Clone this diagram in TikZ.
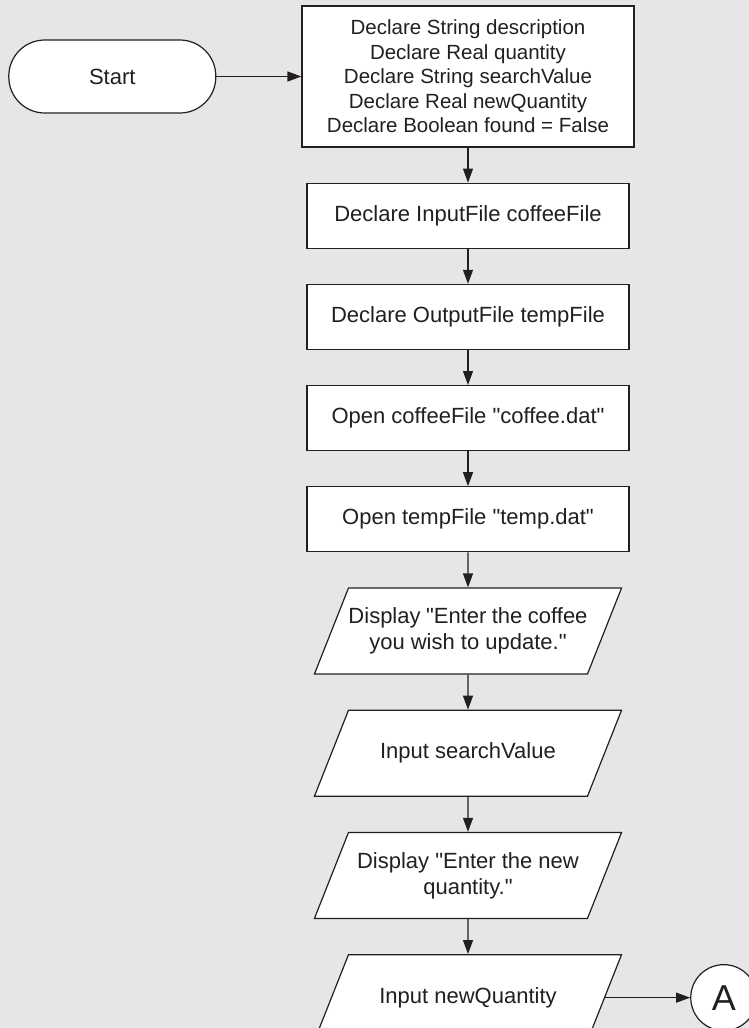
\documentclass[tikz,border=0pt]{standalone}
\usepackage{fontspec}
\setmainfont{Liberation Sans}[Ligatures=TeXOff]
\usetikzlibrary{arrows.meta,positioning,shapes.geometric}
\definecolor{ink}{HTML}{231F20}
\definecolor{paper}{HTML}{E6E6E6}
\newcommand{\iotext}[1]{\parbox[c][46pt][c]{239pt}{\centering #1}}

\begin{document}
\begin{tikzpicture}[x=1pt,y=1pt,>={Triangle[length=14pt,width=10pt]},node distance=35pt,
  every node/.style={text=ink,font=\fontsize{22}{26}\selectfont},
  procbox/.style={draw=ink,line width=1.2pt,fill=white,minimum width=322pt,minimum height=65pt,inner sep=0pt,align=center},
  iobox/.style={draw=ink,line width=1.2pt,fill=white,trapezium,trapezium left angle=68.4,trapezium right angle=111.6,
    inner xsep=0pt,inner ysep=20pt},
  termbox/.style={draw=ink,line width=1.2pt,fill=white,rounded corners=36pt,minimum width=207pt,minimum height=73pt},
  offpage/.style={draw=ink,line width=1.2pt,fill=white,circle,minimum size=66pt,inner sep=0pt,font=\fontsize{36}{40}\selectfont},
  flow/.style={->,draw=ink,line width=1.2pt}]
\fill[paper] (0,0) rectangle (749,-1028);
\useasboundingbox (0,0) rectangle (749,-1028);
% declarations
\node[procbox,minimum width=332pt,minimum height=141pt,font=\fontsize{20.5}{24.5}\selectfont] (decl) at (468,-76.5)
  {Declare String description\\Declare Real quantity\\Declare String searchValue\\Declare Real newQuantity\\Declare Boolean found = False};
\node[termbox,left=85pt of decl] (start) {Start};
% files
\node[procbox,below=of decl] (infile) {Declare InputFile coffeeFile};
\node[procbox,below=of infile] (outfile) {Declare OutputFile tempFile};
\node[procbox,below=of outfile] (opencoffee) {Open coffeeFile "coffee.dat"};
\node[procbox,below=of opencoffee] (opentemp) {Open tempFile "temp.dat"};
% input / output
\node[iobox,below=of opentemp] (askcoffee) {\iotext{Display "Enter the coffee\\you wish to update."}};
\node[iobox,below=of askcoffee] (insearch) {\iotext{Input searchValue}};
\node[iobox,below=of insearch] (askqty) {\iotext{Display "Enter the new\\quantity."}};
\node[iobox,below=of askqty] (inqty) {\iotext{Input newQuantity}};
\node[offpage,right=85pt of inqty.right side] (conA) {A};
\draw[flow] (start)--(decl); \draw[flow] (decl)--(infile); \draw[flow] (infile)--(outfile); \draw[flow] (outfile)--(opencoffee);
\draw[flow] (opencoffee)--(opentemp); \draw[flow] (opentemp)--(askcoffee); \draw[flow] (askcoffee)--(insearch);
\draw[flow] (insearch)--(askqty); \draw[flow] (askqty)--(inqty); \draw[flow] (inqty.right side)--(conA);
\end{tikzpicture}
\end{document}
